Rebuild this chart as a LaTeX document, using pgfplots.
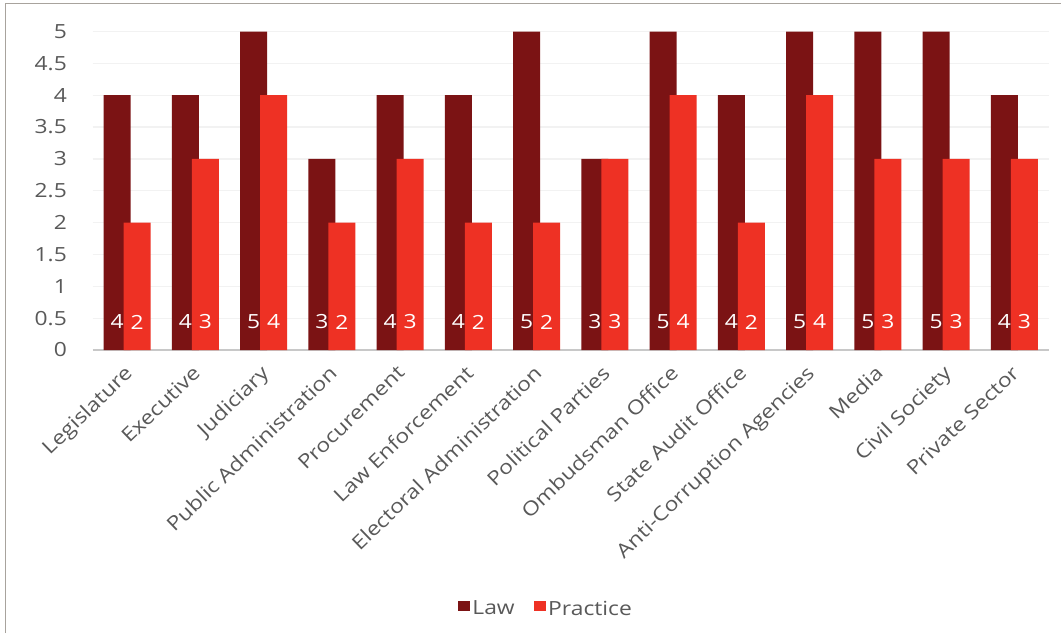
\documentclass[border=0pt]{standalone}
\usepackage{fontspec}
\setmainfont{Open Sans}[FakeStretch=1.17]
\usepackage{pgfplots}
\pgfplotsset{compat=1.18}
\usepackage{pgfplotstable}
\definecolor{lawc}{HTML}{7B1314}
\definecolor{pracc}{HTML}{EE3124}
\definecolor{txt}{HTML}{595959}
\definecolor{framec}{HTML}{A8A39D}
\definecolor{gridc}{HTML}{F2F2F2}
\definecolor{axc}{HTML}{C8C8C8}
\newcommand\ff{\fontsize{19.5}{22}\selectfont}

\pgfplotstableread{
x law practice
0 4 2
1 4 3
2 5 4
3 3 2
4 4 3
5 4 2
6 5 2
7 3 3
8 5 4
9 4 2
10 5 4
11 5 3
12 5 3
13 4 3
}\data

\begin{document}
\begin{tikzpicture}[x=1pt,y=1pt]
\path[use as bounding box] (-93,-283) rectangle (968,350);
\fill[white] (-93,-283) rectangle (968,350);
\draw[framec, line width=1.5pt] (-87.5,-283) -- (-87.5,346.5) -- (968,346.5);
\begin{axis}[
  at={(0pt,0pt)}, anchor=south west,
  width=955.5pt, height=318.5pt, scale only axis,
  xmin=-0.5, xmax=13.5, ymin=0, ymax=5,
  /pgf/number format/assume math mode=true,
  axis x line*=bottom, axis y line*=left,
  x axis line style={draw=axc, line width=2.5pt, -},
  y axis line style={draw=none},
  major tick length=0pt,
  ymajorgrids, major grid style={gridc, line width=1.2pt},
  ytick={0,0.5,1,1.5,2,2.5,3,3.5,4,4.5,5},
  yticklabel style={font=\ff, text=txt, anchor=east, inner sep=0pt, xshift=-26pt},
  xtick={0,...,13},
  xticklabels={Legislature, Executive, Judiciary, Public Administration, Procurement, Law Enforcement, Electoral Administration, Political Parties, Ombudsman Office, State Audit Office, Anti-Corruption Agencies, Media, Civil Society, Private Sector},
  xticklabel style={font=\ff, text=txt, xshift=-4pt, yshift=-14pt, rotate=44, anchor=north east, inner sep=0pt},
  ybar, bar width=27pt,
  legend style={at={(0.474,-0.812)}, anchor=center, draw=none, fill=none, legend columns=2, font=\ff, text=txt,
    /tikz/every even column/.append style={column sep=17pt}},
  legend image code/.code={\fill[#1] (-3pt,-2pt) rectangle (9.5pt,8pt);},
  nodes near coords style={font=\ff, text=white, anchor=center},
]
\addplot[ybar, bar shift=-10pt, fill=lawc, draw=none] table[x=x, y=law]{\data};
\addlegendentry{Law}
\addplot[ybar, bar shift=10pt, fill=pracc, draw=none] table[x=x, y=practice]{\data};
\addlegendentry{Practice}
\addplot[ybar, bar shift=-10pt, draw=none, fill=none, forget plot, nodes near coords, point meta=explicit] table[x=x, y expr=0.44, meta=law]{\data};
\addplot[ybar, bar shift=10pt, draw=none, fill=none, forget plot, nodes near coords, point meta=explicit] table[x=x, y expr=0.44, meta=practice]{\data};
\end{axis}
\end{tikzpicture}
\end{document}
